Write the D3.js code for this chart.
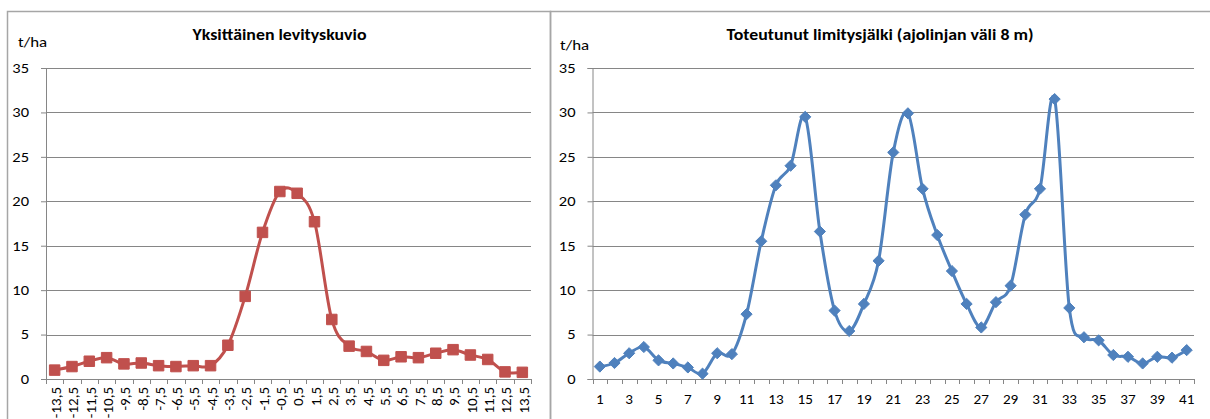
<!DOCTYPE html>
<html><head><meta charset="utf-8">
<script src="https://cdn.jsdelivr.net/npm/d3@7"></script>
<style>
html,body{margin:0;padding:0;background:#fff;}
svg text{font-family:Carlito,Calibri,Lato,"Liberation Sans",sans-serif;fill:#000;}
</style></head>
<body><svg id="c" width="1210" height="419"></svg>
<script>
const leftTitle = "Yksittäinen levityskuvio";
const rightTitle = "Toteutunut limitysjälki (ajolinjan väli 8 m)";
const unitLabel = "t/ha";
const yTicks = [0, 5, 10, 15, 20, 25, 30, 35];
const leftCategories = ["-13,5","-12,5","-11,5","-10,5","-9,5","-8,5","-7,5","-6,5","-5,5","-4,5","-3,5","-2,5","-1,5","-0,5","0,5","1,5","2,5","3,5","4,5","5,5","6,5","7,5","8,5","9,5","10,5","11,5","12,5","13,5"];
const leftValues = [1.0,1.4,2.0,2.4,1.7,1.8,1.5,1.4,1.5,1.5,3.8,9.3,16.5,21.1,20.9,17.7,6.7,3.7,3.1,2.1,2.5,2.4,2.9,3.3,2.7,2.2,0.8,0.75];
const rightCategories = ["1","2","3","4","5","6","7","8","9","10","11","12","13","14","15","16","17","18","19","20","21","22","23","24","25","26","27","28","29","30","31","32","33","34","35","36","37","38","39","40","41"];
const rightValues = [1.4,1.8,2.9,3.6,2.1,1.75,1.3,0.6,2.9,2.8,7.3,15.5,21.8,24.0,29.5,16.6,7.7,5.4,8.45,13.3,25.5,29.9,21.4,16.2,12.15,8.45,5.8,8.65,10.5,18.5,21.4,31.5,8.0,4.7,4.35,2.7,2.5,1.75,2.5,2.4,3.25];

const svg = d3.select("#c");
const gridCol = "#868686";

function stretch(sel, k){
  sel.each(function(){
    const w = this.getComputedTextLength();
    if (w > 0) d3.select(this).attr("textLength", w*k).attr("lengthAdjust","spacingAndGlyphs");
  });
}

// panel borders
svg.append("rect").attr("x",7.5).attr("y",11.5).attr("width",543).attr("height",430)
  .attr("fill","none").attr("stroke","#a6a6a6").attr("stroke-width",1.5);
svg.append("rect").attr("x",550.5).attr("y",11.5).attr("width",700).attr("height",430)
  .attr("fill","none").attr("stroke","#a6a6a6").attr("stroke-width",1.5);

function panel(cfg){
  const g = svg.append("g");
  const y = d3.scaleLinear().domain([0,35]).range([cfg.y0, cfg.y1]);
  const x = d3.scaleBand().domain(cfg.cats).range([cfg.x0, cfg.x1]).paddingInner(0).paddingOuter(0);
  // gridlines
  g.append("g").selectAll("line").data(yTicks.filter(t=>t>0)).join("line")
    .attr("x1",cfg.x0).attr("x2",cfg.x1)
    .attr("y1",d=>Math.round(y(d))+0.5).attr("y2",d=>Math.round(y(d))+0.5)
    .attr("stroke",gridCol).attr("stroke-width",1);
  // y axis
  const ya = g.append("g").attr("transform",`translate(${cfg.x0},0)`)
    .call(d3.axisLeft(y).tickValues(yTicks).tickSize(5).tickPadding(12).tickFormat(d3.format("d")));
  ya.select(".domain").attr("stroke",gridCol);
  ya.selectAll(".tick line").attr("stroke",gridCol);
  ya.selectAll("text").attr("font-size",13.5).attr("fill","#000");
  stretch(ya.selectAll("text"), 1.22);
  // x axis line
  g.append("line").attr("x1",cfg.x0).attr("x2",cfg.x1).attr("y1",cfg.y0+0.5).attr("y2",cfg.y0+0.5)
    .attr("stroke",gridCol);
  // x tick marks at band edges
  const edges = cfg.cats.map(c=>x(c)).concat([cfg.x1]);
  g.append("g").selectAll("line").data(edges).join("line")
    .attr("x1",d=>Math.round(d)+0.5).attr("x2",d=>Math.round(d)+0.5)
    .attr("y1",cfg.y0).attr("y2",cfg.y0+5).attr("stroke",gridCol);
  // x labels
  const xa = g.append("g").attr("transform",`translate(0,${cfg.y0})`)
    .call(d3.axisBottom(x).tickSize(0).tickFormat((d,i)=> (i % cfg.every === 0) ? d : ""));
  xa.select(".domain").remove();
  if (cfg.rotate){
    xa.selectAll("text").attr("font-size",15).attr("transform","rotate(-90)")
      .attr("text-anchor","end").attr("x",-8).attr("y",1).attr("dy","0.35em")
      .attr("dx",0);
  } else {
    xa.selectAll("text").attr("font-size",13.5).attr("dy","0.71em").attr("y",15);
    stretch(xa.selectAll("text"), 1.12);
  }
  // line
  const line = d3.line().x((d,i)=>x(cfg.cats[i])+x.bandwidth()/2).y(d=>y(d))
    .curve(d3.curveCatmullRom.alpha(0));
  g.append("path").datum(cfg.vals).attr("d",line).attr("fill","none")
    .attr("stroke",cfg.color).attr("stroke-width",3).attr("stroke-linejoin","round");
  // markers
  const sym = d3.symbol().type(cfg.marker).size(cfg.msize);
  g.append("g").selectAll("path").data(cfg.vals).join("path")
    .attr("transform",(d,i)=>`translate(${x(cfg.cats[i])+x.bandwidth()/2},${y(d)})`)
    .attr("d",sym).attr("fill",cfg.color).attr("stroke",cfg.color).attr("stroke-width",1);
  // titles
  const t = svg.append("text").attr("x",cfg.tx).attr("y",39.5).attr("text-anchor","middle")
    .attr("font-size",15.5).attr("font-weight","bold").text(cfg.title);
  stretch(t, 1.15);
  const u = svg.append("text").attr("x",cfg.ux).attr("y",cfg.uy).attr("font-size",13.5).text(unitLabel);
  stretch(u, 1.25);
}

panel({cats:leftCategories, vals:leftValues, x0:46, x1:531, y0:379, y1:68, every:1, rotate:true,
  color:"#C0504D", marker:d3.symbolSquare, msize:110, title:leftTitle, tx:279.5, ux:18, uy:47});
panel({cats:rightCategories, vals:rightValues, x0:592.5, x1:1194, y0:379, y1:68, every:2, rotate:false,
  color:"#4F81BD", marker:d3.symbolDiamond2 || d3.symbolDiamond, msize:80, title:rightTitle, tx:880, ux:560, uy:50});
</script></body></html>
